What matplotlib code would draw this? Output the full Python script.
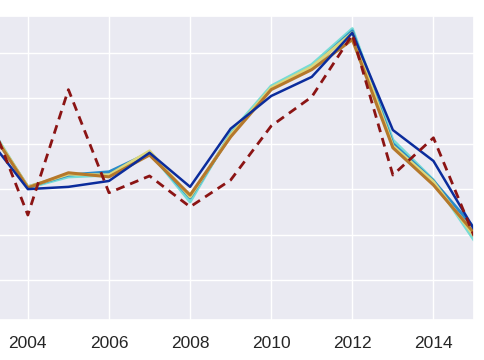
import numpy as np
import matplotlib
matplotlib.use('Agg')
import matplotlib.pyplot as plt
import seaborn as sns

# Years on the x axis.
years = [2003, 2004, 2005, 2006, 2007, 2008, 2009, 2010, 2011, 2012, 2013, 2014, 2015]

# Series values (arbitrary units, gridlines at integers).
turquoise = [3.48, 2.03, 2.27, 2.31, 2.82, 1.72, 3.24, 4.27, 4.74, 5.53, 3.08, 2.20, 0.88]
mid_blue = [3.41, 2.05, 2.31, 2.38, 2.80, 1.81, 3.19, 4.21, 4.67, 5.48, 3.00, 2.18, 1.15]
yellow = [3.44, 2.05, 2.33, 2.31, 2.84, 1.83, 3.19, 4.23, 4.69, 5.44, 2.95, 2.16, 0.97]
brown = [3.41, 2.03, 2.36, 2.27, 2.75, 1.87, 3.15, 4.19, 4.63, 5.29, 2.91, 2.09, 1.04]
dark_blue = [3.15, 2.00, 2.05, 2.18, 2.80, 2.05, 3.33, 4.05, 4.47, 5.44, 3.30, 2.62, 1.12]
dashed_red = [3.72, 1.43, 4.19, 1.92, 2.29, 1.61, 2.20, 3.39, 4.03, 5.40, 2.31, 3.13, 0.97]

series = [
    ('Series C', turquoise, '#76dbd5', 2.2, '-'),
    ('Series B', mid_blue, '#2b8bc9', 2.2, '-'),
    ('Series D', yellow, '#dcd77e', 2.2, '-'),
    ('Series E', brown, '#b5782b', 2.2, '-'),
    ('Series A', dark_blue, '#0b2c9c', 1.8, '-'),
    ('Series F', dashed_red, '#8b1414', 2.0, '--'),
]

sns.set_theme(style='darkgrid')
plt.rcParams['font.family'] = ['Liberation Sans', 'DejaVu Sans']

fig = plt.figure(figsize=(4.85, 3.6), dpi=100)
ax = fig.add_axes([-12.7 / 485, 40 / 360, 486.7 / 485, 304 / 360])

for name, vals, col, lw, ls in series:
    if ls == '--':
        ax.plot(years, vals, color=col, lw=lw, ls=ls, dashes=(3.2, 2.2), label=name)
    else:
        ax.plot(years, vals, color=col, lw=lw, ls=ls, label=name)

ax.set_xlim(2003, 2015)
ax.set_ylim(-0.88, 5.81)
ax.set_xticks([2004, 2006, 2008, 2010, 2012, 2014])
ax.set_yticks([0, 1, 2, 3, 4, 5])
ax.set_yticklabels([])
ax.tick_params(axis='x', labelsize=12.5, labelcolor='#262626', pad=5.5)

# Legend sits just off the right edge, only its frame peeks in.
ax.legend(loc='center left', bbox_to_anchor=(1.016, 0.53), fontsize=12,
          frameon=True, edgecolor='0.8')

fig.savefig('out.png', dpi=100)
